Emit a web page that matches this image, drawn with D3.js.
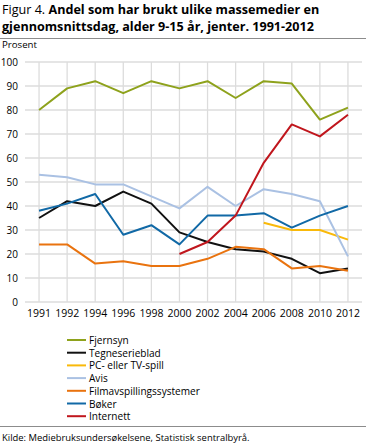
<!DOCTYPE html>
<html><head><meta charset="utf-8">
<script src="https://cdn.jsdelivr.net/npm/d3@7"></script>
<style>
body{margin:0;background:#fff;}
svg{display:block;font-family:"Open Sans",sans-serif;}
</style></head><body>
<svg id="c" width="366" height="446"></svg>
<script>
const years = ["1991","1992","1994","1996","1998","2000","2002","2004","2006","2008","2010","2012"];
const yTicks = [0,10,20,30,40,50,60,70,80,90,100];
const seriesNames = ["Fjernsyn","Tegneserieblad","PC- eller TV-spill","Avis","Filmavspillingssystemer","Bøker","Internett"];
const seriesColors = ["#8ea21c","#111111","#f9b90a","#aac1e3","#e9730f","#1169a6","#c0161d"];
const fjernsyn = [80,89,92,87,92,89,92,85,92,91,76,81];
const tegneserieblad = [35,42,40,46,41,29,25,22,21,18,12,14];
const pcTvSpill = [null,null,null,null,null,null,null,null,33,30,30,26];
const avis = [53,52,49,49,44,39,48,40,47,45,42,19];
const film = [24,24,16,17,15,15,18,23,22,14,15,13];
const boker = [38,41,45,28,32,24,36,36,37,31,36,40];
const internett = [null,null,null,null,null,20,25,36,58,74,69,78];
const seriesValues = [fjernsyn,tegneserieblad,pcTvSpill,avis,film,boker,internett];

const svg = d3.select("#c");
const x = d3.scaleBand().domain(years).range([25,362]);
const y = d3.scaleLinear().domain([0,100]).range([302,62]);
const cx = d => x(d)+x.bandwidth()/2;

function fit(sel, x0, xEnd){
  const w = sel.node().getComputedTextLength();
  const fs = parseFloat(sel.attr("font-size"));
  sel.attr("font-size", (fs*(xEnd-x0)/w).toFixed(2));
}

// title
const t = svg.append("text").attr("x",2).attr("y",14).attr("font-size",12.6).attr("fill","#000");
t.append("tspan").text("Figur 4. ");
t.append("tspan").attr("font-weight","bold").text("Andel som har brukt ulike massemedier en");
svg.append("text").attr("x",2).attr("y",31).attr("font-size",12.6).attr("font-weight","bold").text("gjennomsnittsdag, alder 9-15 år, jenter. 1991-2012");
svg.append("line").attr("x1",0).attr("x2",366).attr("y1",38.5).attr("y2",38.5).attr("stroke","#8c8c8c").attr("stroke-width",1);
const pr = svg.append("text").attr("x",2).attr("y",48).attr("font-size",10).text("Prosent");
fit(pr,2,37);

// gridlines
const g = svg.append("g");
g.selectAll("line.h").data(yTicks).join("line")
 .attr("x1",25).attr("x2",362).attr("y1",d=>y(d)).attr("y2",d=>y(d))
 .attr("stroke","#dcdcdc").attr("stroke-width",1.3);
g.selectAll("line.v").data(years).join("line").attr("class","v")
 .attr("x1",d=>cx(d)).attr("x2",d=>cx(d)).attr("y1",y(100)).attr("y2",y(0))
 .attr("stroke","#dcdcdc").attr("stroke-width",1.3);

// axes
const ya = svg.append("g").attr("transform","translate(18,0)")
 .call(d3.axisLeft(y).tickValues(yTicks).tickSize(0).tickPadding(0));
ya.select(".domain").remove();
ya.selectAll("text").attr("font-size",10).attr("font-family","Open Sans, sans-serif").attr("fill","#000");
const xa = svg.append("g").attr("transform","translate(0,302)")
 .call(d3.axisBottom(x).tickSize(0).tickPadding(8));
xa.select(".domain").remove();
xa.selectAll("text").attr("font-size",10.5).attr("font-family","Open Sans, sans-serif").attr("fill","#000");

// lines
const line = d3.line().defined(d=>d.v!=null).x(d=>cx(d.k)).y(d=>y(d.v));
seriesValues.forEach((vals,i)=>{
  svg.append("path").datum(years.map((k,j)=>({k,v:vals[j]})))
   .attr("d",line).attr("fill","none").attr("stroke",seriesColors[i]).attr("stroke-width",2)
   .attr("stroke-linejoin","round");
});

// legend
const lg = svg.append("g");
let lfs = 11;
seriesNames.forEach((n,i)=>{
  const yy = 340 + i*12.7;
  lg.append("line").attr("x1",67).attr("x2",86).attr("y1",yy).attr("y2",yy).attr("stroke",seriesColors[i]).attr("stroke-width",2);
  const tx = lg.append("text").attr("x",89).attr("y",yy+4).attr("font-size",lfs).text(n);
  if(i===4){ fit(tx,89,200); lfs = tx.attr("font-size"); }
});
lg.selectAll("text").attr("font-size",lfs);

svg.append("line").attr("x1",0).attr("x2",366).attr("y1",426.5).attr("y2",426.5).attr("stroke","#8c8c8c").attr("stroke-width",1);
const src = svg.append("text").attr("x",2).attr("y",441).attr("font-size",10).text("Kilde: Mediebruksundersøkelsene, Statistisk sentralbyrå.");
fit(src,2,250);
</script></body></html>
